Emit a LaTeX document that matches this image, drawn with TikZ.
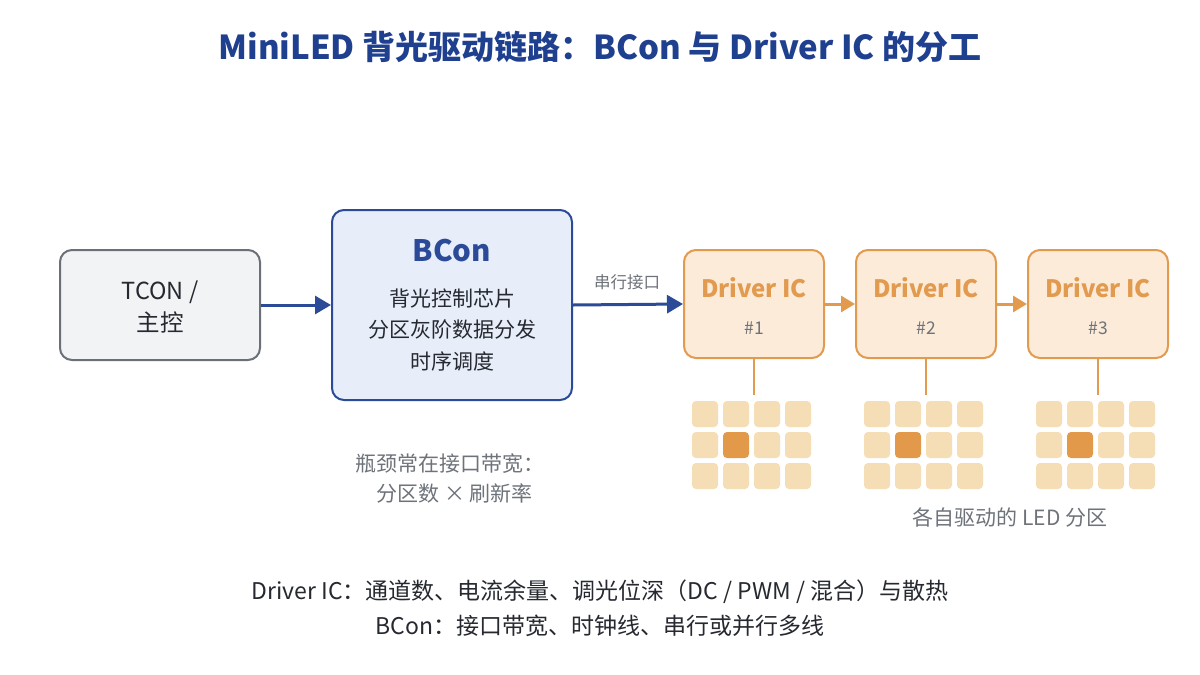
\documentclass[tikz,border=0pt]{standalone}
\usepackage{fontspec}
\setmainfont{Noto Sans CJK SC}
\usetikzlibrary{arrows.meta}
\definecolor{titleblue}{HTML}{1F3F8F}
\definecolor{bconfill}{HTML}{E8EEF9}
\definecolor{bconline}{HTML}{2B4A98}
\definecolor{tconfill}{HTML}{F1F3F5}
\definecolor{tconline}{HTML}{6B7078}
\definecolor{drvfill}{HTML}{FCEBD8}
\definecolor{drvline}{HTML}{E29A4F}
\definecolor{cellfill}{HTML}{F5DDB6}
\definecolor{cellhot}{HTML}{E2994A}
\definecolor{txtdark}{HTML}{262A30}
\definecolor{txtgray}{HTML}{6E737A}
\tikzset{
  boxbase/.style={draw, line width=2pt, rounded corners=12pt, inner sep=0pt},
  tconbox/.style={boxbase, fill=tconfill, draw=tconline, minimum width=200pt, minimum height=110pt},
  bconbox/.style={boxbase, fill=bconfill, draw=bconline, minimum width=240pt, minimum height=190pt},
  drvbox/.style={boxbase, fill=drvfill, draw=drvline, minimum width=140pt, minimum height=108pt},
  cell/.style={fill=cellfill, rounded corners=4pt, minimum size=26pt, inner sep=0pt},
  hotcell/.style={cell, fill=cellhot},
  bluearrow/.style={draw=bconline, line width=3pt, -{Triangle[length=16pt,width=18pt]}},
  orangearrow/.style={draw=drvline, line width=3pt, -{Triangle[length=14pt,width=16pt]}},
  stem/.style={draw=drvline, line width=2pt},
  plain/.style={inner sep=0pt, align=center},
}
\begin{document}
\begin{tikzpicture}[x=1pt,y=-1pt]
\useasboundingbox (0,0) rectangle (1200,675);
\fill[white] (0,0) rectangle (1200,675);
% title
\node[plain, text=titleblue, font=\fontsize{33}{36}\selectfont\bfseries] (title) at (600,47) {MiniLED 背光驱动链路：BCon 与 Driver IC 的分工};
% TCON
\node[tconbox] (tcon) at (160,305) {};
\node[plain, text=txtdark, font=\fontsize{23.5}{32}\selectfont] (tcontxt) at (160,307) {TCON /\\主控};
% BCon
\node[bconbox] (bcon) at (452,305) {};
\node[plain, text=bconline, font=\fontsize{29.5}{32}\selectfont\bfseries] (bcontitle) at (452,251) {BCon};
\node[plain, text=txtdark, font=\fontsize{21}{31.5}\selectfont] (bcontxt) at (452,330) {背光控制芯片\\分区灰阶数据分发\\时序调度};
% Driver ICs
\foreach \i/\cx in {1/754,2/926,3/1098}{
  \node[drvbox] (d\i) at (\cx,304) {};
  \node[plain, text=drvline, font=\fontsize{24}{28}\selectfont\bfseries] (dt\i) at (\cx,288) {Driver IC};
  \node[plain, text=txtgray, font=\fontsize{17.5}{20}\selectfont] (dn\i) at (\cx,328) {\#\i};
  \coordinate (g\i) at (\cx,395);
  \draw[stem] (d\i.south) -- (g\i);
  \foreach \r in {1,2,3}{
    \foreach \c in {1,2,3,4}{
      \pgfmathsetmacro{\xx}{\cx-2.5-46.5+(\c-1)*31}
      \pgfmathsetmacro{\yy}{414+(\r-1)*31}
      \ifnum\r=2 \ifnum\c=2
        \node[hotcell] (c\i-\r-\c) at (\xx,\yy) {};
      \else
        \node[cell] (c\i-\r-\c) at (\xx,\yy) {};
      \fi\else
        \node[cell] (c\i-\r-\c) at (\xx,\yy) {};
      \fi
    }
  }
}
% connectors
\draw[bluearrow] (tcon.east) -- (bcon.west);
\draw[bluearrow] (bcon.east) -- (d1.west);
\node[plain, text=txtgray, font=\fontsize{16.5}{18}\selectfont] (serial) at (627,282) {串行接口};
\draw[orangearrow] (d1.east) -- (d2.west);
\draw[orangearrow] (d2.east) -- (d3.west);
% notes
\node[plain, text=txtgray, font=\fontsize{21}{24}\selectfont] (led) at (1010,517) {各自驱动的 LED 分区};
\node[plain, text=txtgray, font=\fontsize{21}{30}\selectfont] (neck) at (450,478) {瓶颈常在接口带宽：\\\ \ 分区数 × 刷新率};
\node[plain, text=txtdark, font=\fontsize{23}{35}\selectfont] (foot) at (600,608) {Driver IC：通道数、电流余量、调光位深（DC / PWM / 混合）与散热\\BCon：接口带宽、时钟线、串行或并行多线};
\end{tikzpicture}
\end{document}
